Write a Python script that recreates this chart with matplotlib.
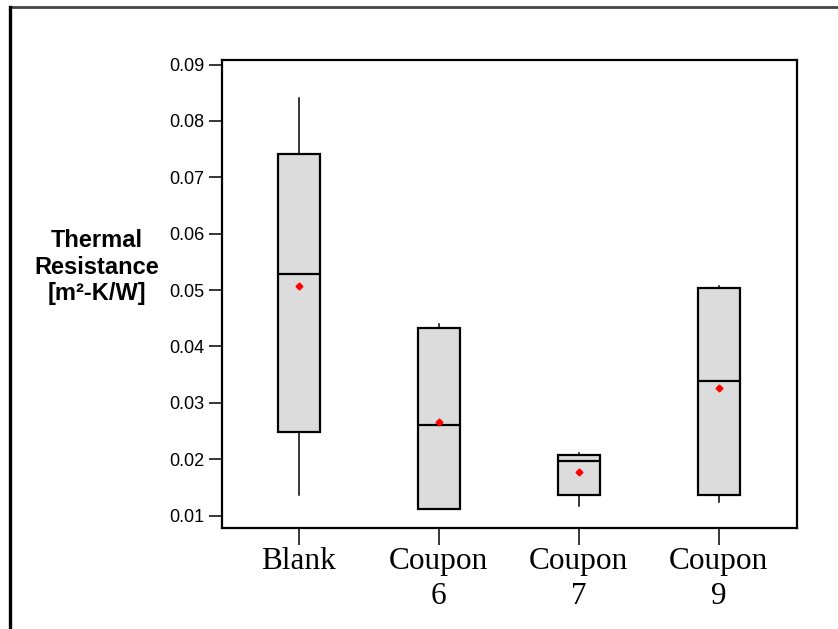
import matplotlib
matplotlib.use("Agg")
import matplotlib.pyplot as plt
from matplotlib.lines import Line2D

# Summary statistics per specimen
categories = ["Blank", "Coupon\n6", "Coupon\n7", "Coupon\n9"]
whisker_low = [0.0137, 0.0112, 0.0117, 0.0125]
q1 = [0.0249, 0.0112, 0.0137, 0.0137]
median = [0.0529, 0.0260, 0.0197, 0.0339]
q3 = [0.0742, 0.0432, 0.0208, 0.0503]
whisker_high = [0.0840, 0.0440, 0.0212, 0.0507]
mean = [0.0507, 0.0267, 0.0177, 0.0327]
y_ticks = [0.01, 0.02, 0.03, 0.04, 0.05, 0.06, 0.07, 0.08, 0.09]

stats = [
    dict(label=c, whislo=lo, q1=a, med=m, q3=b, whishi=hi, mean=mu, fliers=[])
    for c, lo, a, m, b, hi, mu in zip(categories, whisker_low, q1, median, q3,
                                      whisker_high, mean)
]

fig = plt.figure(figsize=(8.38, 6.29), dpi=100)
ax = fig.add_axes([0.2649, 0.1598, 0.951 - 0.2649, 0.9046 - 0.1598])

positions = list(range(1, len(categories) + 1))
ax.bxp(
    stats,
    positions=positions,
    widths=0.3,
    patch_artist=True,
    showmeans=True,
    showcaps=False,
    showfliers=False,
    boxprops=dict(facecolor="#dcdcdc", edgecolor="black", linewidth=1.6),
    medianprops=dict(color="black", linewidth=1.6),
    whiskerprops=dict(color="black", linewidth=1.1),
    meanprops=dict(marker="D", markerfacecolor="red", markeredgecolor="red",
                   markersize=3.5),
)

ax.set_xlim(0.45, 4.56)
ax.set_ylim(0.00773, 0.0908)
ax.set_yticks(y_ticks)
ax.set_yticklabels([f"{v:.2f}" for v in y_ticks],
                   family="Liberation Sans", fontsize=13)
ax.set_xticks(positions)
ax.set_xticklabels(categories, family="Liberation Serif", fontsize=22.5,
                   linespacing=1.3)

for side in ax.spines.values():
    side.set_linewidth(1.6)
ax.tick_params(axis="y", direction="out", length=9.5, width=1.1, pad=3)
ax.tick_params(axis="x", direction="out", length=12, width=1.1, pad=1)

fig.text(97 / 838, 1 - 267 / 629, "Thermal\nResistance\n[m²-K/W]",
         ha="center", va="center", multialignment="center",
         family="Liberation Sans", fontweight="bold", fontsize=17,
         linespacing=1.2)

# Partial outer frame around the figure
fig.add_artist(Line2D([10 / 838, 1.0], [1 - 7 / 629, 1 - 7 / 629],
                      transform=fig.transFigure, color="#444444", linewidth=2))
fig.add_artist(Line2D([10 / 838, 10 / 838], [1 - 7 / 629, 0.0],
                      transform=fig.transFigure, color="black", linewidth=2.4))

fig.savefig("out.png", dpi=100)
